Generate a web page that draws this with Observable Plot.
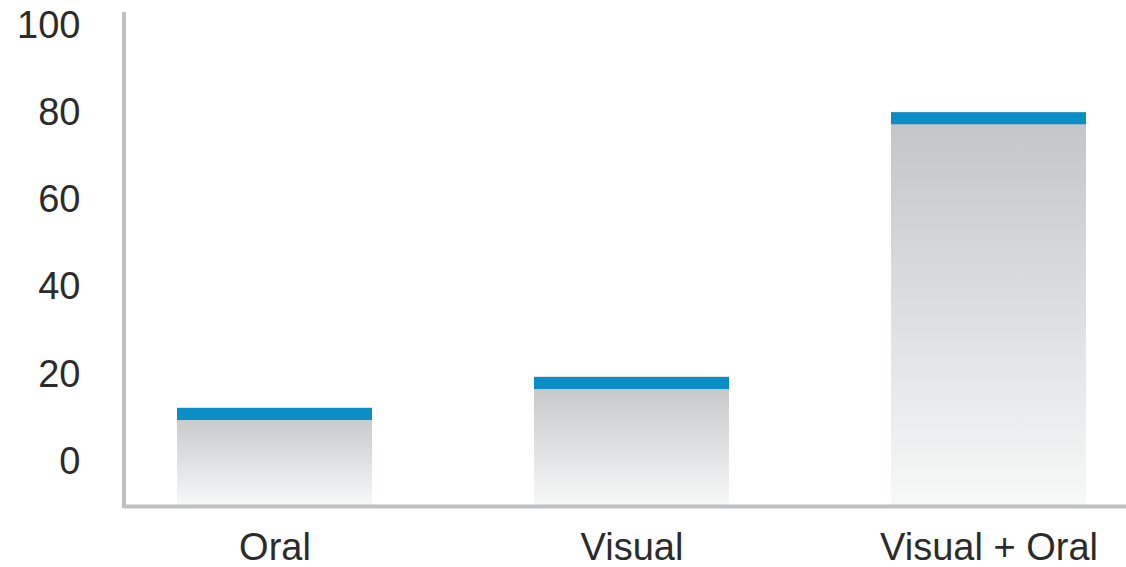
<!DOCTYPE html>
<html>
<head>
<meta charset="utf-8">
<script src="https://cdn.jsdelivr.net/npm/d3@7"></script>
<script src="https://cdn.jsdelivr.net/npm/@observablehq/plot@0.6"></script>
<style>
  html, body { margin: 0; padding: 0; background: #fff; }
  #chart svg { display: block; }
</style>
</head>
<body>
<div id="chart"></div>
<script>
const categories = ["Oral", "Visual", "Visual + Oral"];
const values = [12.3, 19.4, 80.1];
const yTicks = [0, 20, 40, 60, 80, 100];
const yDomain = [-10.3, 103];

const data = categories.map((c, i) => ({category: c, value: values[i]}));

const chart = Plot.plot({
  width: 1126,
  height: 567,
  marginLeft: 124,
  marginRight: 0,
  marginTop: 12,
  marginBottom: 61,
  style: {fontFamily: "'Liberation Sans', Arial, sans-serif", color: "#2b2b2b", background: "#fff"},
  x: {domain: categories, range: [124, 1139], paddingInner: 0.454, paddingOuter: 0.148, label: null},
  y: {domain: yDomain, label: null},
  marks: [
    Plot.barY(data, {x: "category", y1: yDomain[0], y2: "value", fill: "url(#barGrad)"}),
    Plot.tickY(data, {x: "category", y: "value", stroke: "#0a8ec6", strokeWidth: 12, dy: 6}),
    Plot.ruleY([yDomain[0]], {stroke: "#bfc0c3", strokeWidth: 4}),
    Plot.axisY({ticks: yTicks, tickSize: 0, tickPadding: 44, fontSize: 38, fill: "#2b2b2b"}),
    Plot.axisX({tickSize: 0, tickPadding: 27, fontSize: 38, fill: "#2b2b2b"})
  ]
});

const svg = d3.select(chart);
const defs = svg.insert("defs", ":first-child");
const grad = defs.append("linearGradient")
  .attr("id", "barGrad").attr("x1", 0).attr("y1", 0).attr("x2", 0).attr("y2", 1);
grad.append("stop").attr("offset", "0%").attr("stop-color", "#c3c4c6");
grad.append("stop").attr("offset", "100%").attr("stop-color", "#f7f8f8");

const y = chart.scale("y");
svg.append("line")
  .attr("x1", 124).attr("x2", 124)
  .attr("y1", y.apply(yDomain[1])).attr("y2", y.apply(yDomain[0]) + 2)
  .attr("stroke", "#bfc0c3").attr("stroke-width", 4);

document.getElementById("chart").appendChild(chart);
</script>
</body>
</html>
